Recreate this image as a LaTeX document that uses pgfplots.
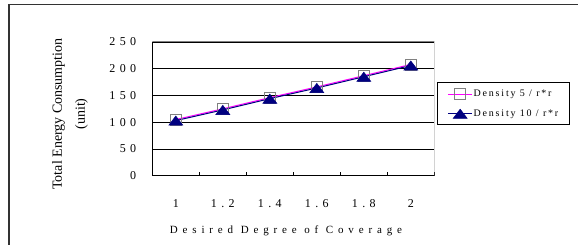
\documentclass[border=0pt]{standalone}
\usepackage{fontspec}
\setmainfont{Liberation Serif}
\newfontfamily\tickf[LetterSpace=36]{Liberation Serif}
\newfontfamily\labf[LetterSpace=44]{Liberation Serif}
\newfontfamily\legf[LetterSpace=18]{Liberation Serif}
\usepackage{pgfplots}
\pgfplotsset{compat=1.18}
\definecolor{navy}{RGB}{0,0,128}
\definecolor{mag}{RGB}{255,0,255}
\definecolor{frameg}{RGB}{128,128,128}
\pgfdeclareplotmark{xtri}{%
  \pgfpathmoveto{\pgfqpoint{0pt}{4.6pt}}%
  \pgfpathlineto{\pgfqpoint{-7pt}{-4.6pt}}%
  \pgfpathlineto{\pgfqpoint{7pt}{-4.6pt}}%
  \pgfpathclose\pgfusepathqfillstroke}
\begin{document}
\begin{tikzpicture}
\path[use as bounding box] (0,0) rectangle (578pt,245pt);
\draw[line width=1.5pt, black!80] (9pt,-2pt) -- (9pt,240.3pt) -- (582pt,240.3pt);
\begin{axis}[
  at={(152.3pt,69.3pt)}, anchor=south west,
  scale only axis, width=282pt, height=133.7pt,
  xmin=-0.5, xmax=5.5, ymin=0, ymax=250,
  /pgf/number format/assume math mode=true,
  axis lines=left, axis line style={-, black, line width=1pt},
  xtick={0,1,2,3,4,5}, xticklabels={1,1.2,1.4,1.6,1.8,2},
  major x tick style={draw=none},
  extra x ticks={-0.5,0.5,1.5,2.5,3.5,4.5,5.5},
  extra x tick labels={},
  extra x tick style={grid=none, tick align=inside, major tick length=4pt,
     major x tick style={draw=black, line width=0.8pt}},
  ytick={0,50,100,150,200,250},
  ytick align=inside, major tick length=4pt,
  ymajorgrids, grid style={black, line width=0.6pt},
  tick style={black, line width=0.8pt},
  xticklabel style={font=\tickf\fontsize{12}{14}\selectfont, anchor=center, inner sep=0pt, yshift=-26pt, xshift=0pt},
  yticklabel style={font=\tickf\fontsize{12}{14}\selectfont, anchor=east, inner sep=0pt, xshift=-16pt},
  xlabel={Desired Degree of Coverage},
  xlabel style={at={(axis description cs:0.474,-0.4136)}, anchor=center, inner sep=0pt,
     font=\labf\fontsize{11}{13}\selectfont},
  ylabel={Total Energy Consumption\\(unit)},
  ylabel style={at={(axis description cs:-0.292,0.4615)}, anchor=center, align=center, inner sep=0pt,
     font=\fontsize{14}{23}\selectfont},
  legend style={at={(axis description cs:1.0106,0.6986)}, anchor=north west,
     draw=black, line width=0.8pt, fill=white,
     font=\legf\fontsize{10}{12}\selectfont,
     inner xsep=10pt, inner ysep=6pt, row sep=9pt,
     nodes={inner sep=1pt}},
  legend cell align=left,
  /tikz/every even column/.append style={column sep=1pt},
  legend image code/.code={\draw[mark repeat=2,mark phase=2,#1] plot coordinates {(0pt,0pt) (12pt,0pt) (24pt,0pt)};},
]
\addplot[mag, line width=1pt, mark=square, mark size=5.5pt,
   mark options={draw=frameg, fill=none, line width=0.9pt}]
  coordinates {(0,105) (1,125) (2,146) (3,166) (4,187) (5,208)};
\addlegendentry{Density 5 / r*r}
\addplot[navy, line width=1pt, mark=xtri,
   mark options={draw=navy, fill=navy, line width=0.5pt}]
  coordinates {(0,103) (1,123) (2,144) (3,164) (4,185) (5,206)};
\addlegendentry{Density 10 / r*r}
\draw[frameg, line width=1pt] (rel axis cs:0,1) -- (rel axis cs:1,1) -- (rel axis cs:1,0);
\end{axis}
\end{tikzpicture}
\end{document}
